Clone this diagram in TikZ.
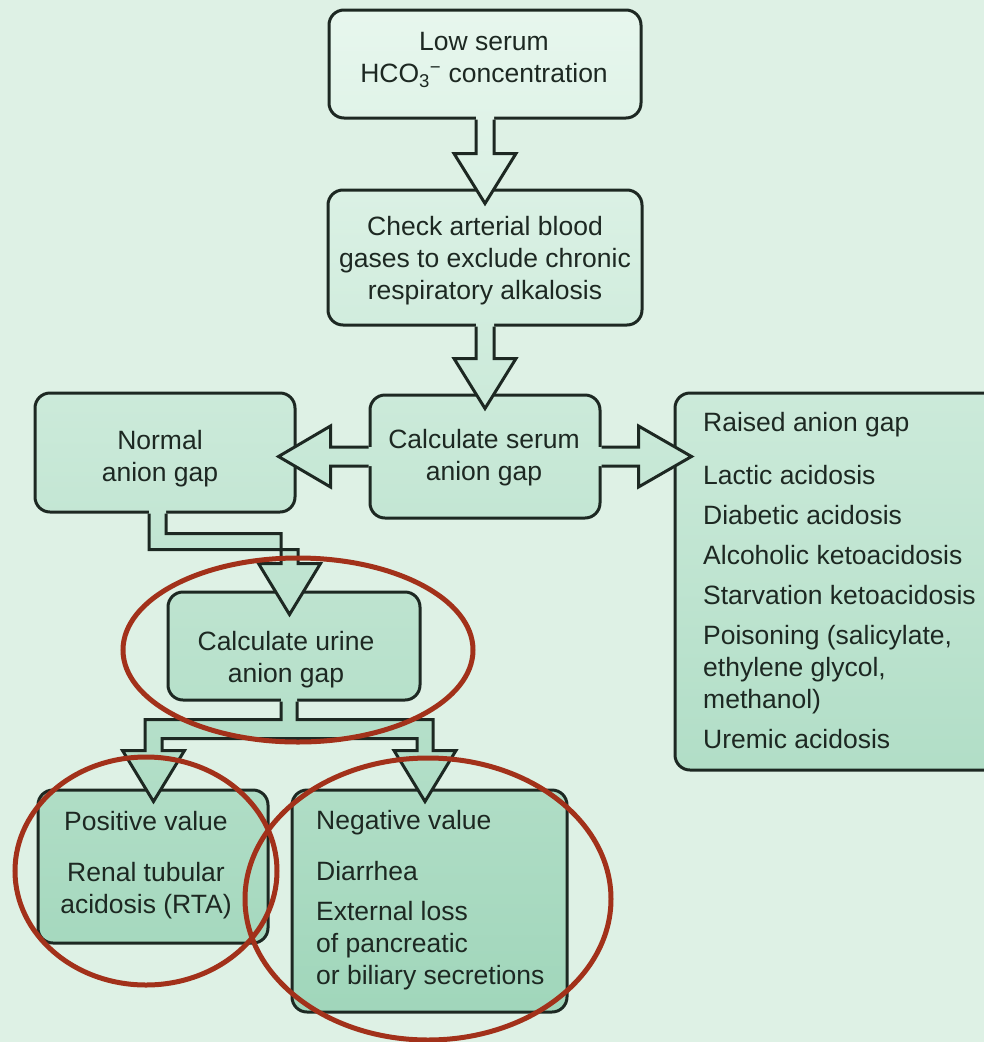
\documentclass[tikz,border=0pt]{standalone}
\usepackage{fontspec}
\setmainfont{Liberation Sans}
\usetikzlibrary{calc}
\definecolor{bgc}{HTML}{DEF1E5}
\definecolor{gtop}{HTML}{E8F7EE}
\definecolor{gbot}{HTML}{9ED5B9}
\definecolor{ink}{HTML}{1D2822}
\definecolor{ring}{HTML}{A2311A}
\begin{document}
\begin{tikzpicture}[x=1pt,y=-1pt,
  box/.style={draw=ink, line width=3pt, rounded corners=15pt, inner sep=0pt},
  gsh/.style 2 args={top color=gbot!#1!gtop, bottom color=gbot!#2!gtop},
  txt/.style={text=ink, inner sep=0pt, font=\fontsize{26.5pt}{32pt}\selectfont},
  arrowline/.style={draw=ink, line width=3pt, line join=miter},
  redring/.style={draw=ring, line width=5pt}]
\useasboundingbox (0,0) rectangle (984,1042);
\fill[bgc] (0,0) rectangle (984,1042);

% ---------- boxes ----------
\node[box, gsh={1}{11}, minimum width=312pt, minimum height=108pt] (low) at (485,64) {};
\node[box, gsh={18}{31}, minimum width=314pt, minimum height=135pt] (abg) at (485,257.5) {};
\node[box, gsh={38}{50}, minimum width=230pt, minimum height=123pt] (serum) at (485,456.5) {};
\node[box, gsh={38}{49}, minimum width=260pt, minimum height=119pt] (normal) at (165,452.5) {};
\node[box, gsh={38}{74}, minimum width=330pt, minimum height=377pt] (raised) at (840,581.5) {};
\node[box, gsh={57}{67}, minimum width=252pt, minimum height=108pt] (urine) at (294,646) {};
\node[box, gsh={76}{90}, minimum width=230pt, minimum height=153pt] (pos) at (153,866.5) {};
\node[box, gsh={76}{97}, minimum width=275pt, minimum height=222pt] (neg) at (429.5,901) {};

% ---------- arrow 1 : low -> abg ----------
\coordinate (s1) at (low.south);
\coordinate (t1) at ($(abg.north)+(0,15)$);
\path[gsh={11}{19}] ($(s1)+(-9,-4)$) -- ($(t1)+(-9,-50)$) -- ($(t1)+(-31,-50)$) -- (t1)
  -- ($(t1)+(31,-50)$) -- ($(t1)+(9,-50)$) -- ($(s1)+(9,-4)$) -- cycle;
\draw[arrowline] ($(s1)+(-9,0)$) -- ($(t1)+(-9,-50)$) -- ($(t1)+(-31,-50)$) -- (t1)
  -- ($(t1)+(31,-50)$) -- ($(t1)+(9,-50)$) -- ($(s1)+(9,0)$);

% ---------- arrow 2 : abg -> serum ----------
\coordinate (s2) at (abg.south);
\coordinate (t2) at ($(serum.north)+(0,15)$);
\path[gsh={31}{39}] ($(s2)+(-9,-4)$) -- ($(t2)+(-9,-50)$) -- ($(t2)+(-31,-50)$) -- (t2)
  -- ($(t2)+(31,-50)$) -- ($(t2)+(9,-50)$) -- ($(s2)+(9,-4)$) -- cycle;
\draw[arrowline] ($(s2)+(-9,0)$) -- ($(t2)+(-9,-50)$) -- ($(t2)+(-31,-50)$) -- (t2)
  -- ($(t2)+(31,-50)$) -- ($(t2)+(9,-50)$) -- ($(s2)+(9,0)$);

% ---------- arrow 3 : serum -> normal ----------
\coordinate (s3) at (serum.west);
\coordinate (nl) at ($(normal.east)+(-18,0)$);
\coordinate (t3) at (nl |- serum.west);
\path[gsh={41}{47}] ($(s3)+(4,-9.5)$) -- ($(t3)+(52,-9.5)$) -- ($(t3)+(52,-30.5)$) -- (t3)
  -- ($(t3)+(52,30.5)$) -- ($(t3)+(52,9.5)$) -- ($(s3)+(4,9.5)$) -- cycle;
\draw[arrowline] ($(s3)+(0,-9.5)$) -- ($(t3)+(52,-9.5)$) -- ($(t3)+(52,-30.5)$) -- (t3)
  -- ($(t3)+(52,30.5)$) -- ($(t3)+(52,9.5)$) -- ($(s3)+(0,9.5)$);

% ---------- arrow 4 : serum -> raised ----------
\coordinate (s4) at (serum.east);
\coordinate (rl) at ($(raised.west)+(18,0)$);
\coordinate (t4) at (rl |- serum.east);
\path[gsh={41}{47}] ($(s4)+(-4,-9.5)$) -- ($(t4)+(-53,-9.5)$) -- ($(t4)+(-53,-30.5)$) -- (t4)
  -- ($(t4)+(-53,30.5)$) -- ($(t4)+(-53,9.5)$) -- ($(s4)+(-4,9.5)$) -- cycle;
\draw[arrowline] ($(s4)+(0,-9.5)$) -- ($(t4)+(-53,-9.5)$) -- ($(t4)+(-53,-30.5)$) -- (t4)
  -- ($(t4)+(-53,30.5)$) -- ($(t4)+(-53,9.5)$) -- ($(s4)+(0,9.5)$);

% ---------- arrow 5 : normal -> urine (elbow) ----------
\coordinate (e0) at ($(normal.south)+(-7.5,0)$);
\coordinate (et) at ($(urine.north)+(-4.5,24)$);
\coordinate (ey) at ($(e0)+(0,28)$);
\coordinate (ec) at (et |- ey);
\path[gsh={49}{59}] ($(e0)+(-8.5,-4)$) -- ($(ey)+(-8.5,8)$) -- ($(ec)+(8.5,8)$) -- ($(et)+(8.5,-51)$)
  -- ($(et)+(31,-51)$) -- (et) -- ($(et)+(-31,-51)$) -- ($(et)+(-8.5,-51)$)
  -- ($(ec)+(-8.5,-8)$) -- ($(ey)+(8.5,-8)$) -- ($(e0)+(8.5,-4)$) -- cycle;
\draw[arrowline] ($(e0)+(-8.5,0)$) -- ($(ey)+(-8.5,8)$) -- ($(ec)+(8.5,8)$) -- ($(et)+(8.5,-51)$)
  -- ($(et)+(31,-51)$) -- (et) -- ($(et)+(-31,-51)$) -- ($(et)+(-8.5,-51)$)
  -- ($(ec)+(-8.5,-8)$) -- ($(ey)+(8.5,-8)$) -- ($(e0)+(8.5,0)$);

% ---------- arrow 6 : urine -> pos / neg (branch) ----------
\coordinate (b0) at ($(urine.south)+(-5,0)$);
\coordinate (by) at ($(b0)+(0,27.5)$);
\coordinate (tl) at ($(pos.north)+(0.5,13)$);
\coordinate (tr) at ($(neg.north)+(-4.5,13)$);
\coordinate (bl) at (tl |- by);
\coordinate (br) at (tr |- by);
\path[gsh={67}{77}] ($(b0)+(-8,-4)$) -- ($(by)+(-8,-9.5)$) -- ($(bl)+(-8.5,-9.5)$) -- ($(tl)+(-8.5,-51)$)
  -- ($(tl)+(-31,-51)$) -- (tl) -- ($(tl)+(31,-51)$) -- ($(tl)+(8.5,-51)$)
  -- ($(bl)+(8.5,9.5)$) -- ($(br)+(-8,9.5)$) -- ($(tr)+(-8,-51)$)
  -- ($(tr)+(-31,-51)$) -- (tr) -- ($(tr)+(31,-51)$) -- ($(tr)+(8,-51)$)
  -- ($(br)+(8,-9.5)$) -- ($(by)+(8,-9.5)$) -- ($(b0)+(8,-4)$) -- cycle;
\draw[arrowline] ($(b0)+(-8,0)$) -- ($(by)+(-8,-9.5)$) -- ($(bl)+(-8.5,-9.5)$) -- ($(tl)+(-8.5,-51)$)
  -- ($(tl)+(-31,-51)$) -- (tl) -- ($(tl)+(31,-51)$) -- ($(tl)+(8.5,-51)$)
  -- ($(bl)+(8.5,9.5)$) -- ($(br)+(-8,9.5)$) -- ($(tr)+(-8,-51)$)
  -- ($(tr)+(-31,-51)$) -- (tr) -- ($(tr)+(31,-51)$) -- ($(tr)+(8,-51)$)
  -- ($(br)+(8,-9.5)$) -- ($(by)+(8,-9.5)$) -- ($(b0)+(8,0)$);

% ---------- texts ----------
\node[txt, align=center] (lowt) at (484,60) {Low serum\\HCO\textsubscript{3}\textsuperscript{−} concentration};
\node[txt, align=center] (abgt) at (485,261) {Check arterial blood\\gases to exclude chronic\\respiratory alkalosis};
\node[txt, align=center] (serumt) at (484,458) {Calculate serum\\anion gap};
\node[txt, align=center] (normalt) at (160,459) {Normal\\anion gap};
\node[txt, align=center] (urinet) at (286,660) {Calculate urine\\anion gap};
\node[txt, align=left, anchor=west] (raisedt) at (703,581) {Raised anion gap\\[21pt]Lactic acidosis\\[8pt]Diabetic acidosis\\[8pt]Alcoholic ketoacidosis\\[8pt]Starvation ketoacidosis\\[8pt]Poisoning (salicylate,\\ethylene glycol,\\methanol)\\[8pt]Uremic acidosis};
\node[txt, align=center] (post) at (146,865) {Positive value\\[19pt]Renal tubular\\acidosis (RTA)};
\node[txt, align=left, anchor=west] (negt) at (316,900) {Negative value\\[19pt]Diarrhea\\[8pt]External loss\\of pancreatic\\or biliary secretions};

% ---------- red rings ----------
\draw[redring] ($(urine.center)+(4,4)$) ellipse [x radius=175, y radius=92];
\draw[redring] ($(pos.center)+(-7,4.5)$) ellipse [x radius=131, y radius=114];
\draw[redring] ($(neg.center)+(-1.5,-2)$) ellipse [x radius=183, y radius=141];
\end{tikzpicture}
\end{document}
